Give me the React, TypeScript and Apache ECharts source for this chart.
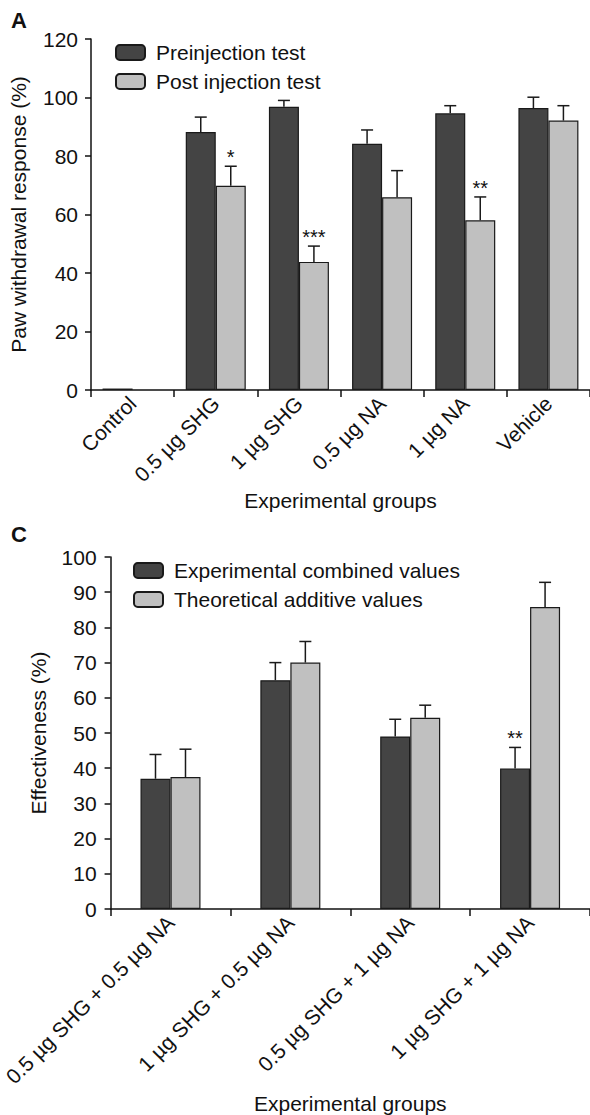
import React, { useEffect, useRef } from "react";
import * as echarts from "echarts";

const FONT = "'Liberation Sans', Arial, sans-serif";

// Chart A
const aCategories = ["Control", "0.5 µg SHG", "1 µg SHG", "0.5 µg NA", "1 µg NA", "Vehicle"];
const aPre = [0.5, 88.2, 96.8, 84.2, 94.6, 96.4];
const aPreErr = [0, 5.1, 2.2, 4.7, 2.6, 3.7];
const aPost: (number | null)[] = [null, 69.8, 43.8, 65.9, 58.0, 92.1];
const aPostErr = [0, 6.7, 5.4, 9.1, 8.0, 5.1];
const aPostStars = ["", "*", "***", "", "**", ""];
const aPreStars = ["", "", "", "", "", ""];
const aSeriesNames = ["Preinjection test", "Post injection test"];

// Chart C
const cCategories = [
  "0.5 µg SHG + 0.5 µg NA",
  "1 µg SHG + 0.5 µg NA",
  "0.5 µg SHG + 1 µg NA",
  "1 µg SHG + 1 µg NA",
];
const cExp = [37.0, 65.0, 49.0, 39.9];
const cExpErr = [6.9, 5.0, 4.9, 6.0];
const cTheo = [37.5, 70.0, 54.3, 85.8];
const cTheoErr = [7.9, 6.0, 3.6, 7.0];
const cExpStars = ["", "", "", "**"];
const cTheoStars = ["", "", "", ""];
const cSeriesNames = ["Experimental combined values", "Theoretical additive values"];

const DARK = "#444444";
const LIGHT = "#c0c0c0";
const BORDER = "#1a1a1a";
const BAR_W = 30;

function errSeries(
  name: string,
  gridIdx: number,
  values: (number | null)[],
  errs: number[],
  stars: string[],
  offset: number
) {
  return {
    type: "custom",
    name: name + " err",
    xAxisIndex: gridIdx,
    yAxisIndex: gridIdx,
    silent: true,
    z: 5,
    data: values.map((v, i) => [i, v == null ? 0 : v, errs[i]]),
    renderItem: (params: any, api: any) => {
      const i = api.value(0);
      const v = api.value(1);
      const e = api.value(2);
      const base = api.coord([i, v]);
      const top = api.coord([i, v + e]);
      const x = base[0] + offset;
      const children: any[] = [];
      if (e > 0) {
        children.push({
          type: "line",
          shape: { x1: x, y1: base[1], x2: x, y2: top[1] },
          style: { stroke: BORDER, lineWidth: 1.5 },
        });
        children.push({
          type: "line",
          shape: { x1: x - 6, y1: top[1], x2: x + 6, y2: top[1] },
          style: { stroke: BORDER, lineWidth: 1.5 },
        });
      }
      const s = stars[params.dataIndex];
      if (s) {
        children.push({
          type: "text",
          style: {
            text: s,
            x: x,
            y: top[1] + 1,
            align: "center",
            verticalAlign: "bottom",
            fontSize: 20,
            fontFamily: FONT,
            fill: "#111",
          },
        });
      }
      return { type: "group", children };
    },
  };
}

function barSeries(name: string, gridIdx: number, data: (number | null)[], color: string) {
  return {
    type: "bar",
    name,
    xAxisIndex: gridIdx,
    yAxisIndex: gridIdx,
    data,
    barWidth: BAR_W,
    barGap: "0%",
    itemStyle: { color, borderColor: BORDER, borderWidth: 1.2 },
  };
}

const axisLineStyle = { lineStyle: { color: "#111", width: 1.5 } };

function xAxis(gridIdx: number, cats: string[], nameGap: number) {
  return {
    type: "category",
    gridIndex: gridIdx,
    data: cats,
    name: "Experimental groups",
    nameLocation: "middle",
    nameGap,
    nameTextStyle: { fontSize: 21, fontFamily: FONT, color: "#111" },
    axisLine: { show: true, ...axisLineStyle },
    axisTick: { show: true, alignWithLabel: false, interval: 0, length: 7, lineStyle: { color: "#111", width: 1.5 } },
    axisLabel: { rotate: 45, interval: 0, fontSize: 21, fontFamily: FONT, color: "#111", margin: 10 },
    splitLine: { show: false },
  };
}

function yAxis(gridIdx: number, name: string, max: number, interval: number, margin: number) {
  return {
    type: "value",
    gridIndex: gridIdx,
    min: 0,
    max,
    interval,
    name,
    nameLocation: "middle",
    nameGap: 62,
    nameTextStyle: { fontSize: 21, fontFamily: FONT, color: "#111" },
    axisLine: { show: true, ...axisLineStyle },
    axisTick: { show: true, length: 6, lineStyle: { color: "#111", width: 1.5 } },
    axisLabel: { fontSize: 21, fontFamily: FONT, color: "#111", margin },
    splitLine: { show: false },
  };
}

export default function App() {
  const ref = useRef<HTMLDivElement>(null);
  useEffect(() => {
    if (!ref.current) return;
    const chart = echarts.init(ref.current, null, { renderer: "svg" });
    chart.setOption({
      animation: false,
      backgroundColor: "#ffffff",
      textStyle: { fontFamily: FONT },
      title: [
        { text: "A", left: 6, top: 4, textStyle: { fontSize: 22, fontWeight: "bold", fontFamily: FONT, color: "#111" } },
        { text: "C", left: 6, top: 518, textStyle: { fontSize: 22, fontWeight: "bold", fontFamily: FONT, color: "#111" } },
      ],
      legend: [
        {
          data: aSeriesNames,
          orient: "vertical",
          left: 110,
          top: 37,
          itemWidth: 29,
          itemHeight: 15,
          itemGap: 8,
          textStyle: { fontSize: 21, fontFamily: FONT, color: "#111", padding: [0, 0, 0, 6] },
        },
        {
          data: cSeriesNames,
          orient: "vertical",
          left: 128,
          top: 555,
          itemWidth: 29,
          itemHeight: 15,
          itemGap: 8,
          textStyle: { fontSize: 21, fontFamily: FONT, color: "#111", padding: [0, 0, 0, 6] },
        },
      ],
      grid: [
        { left: 90, right: 0, top: 39, height: 351 },
        { left: 109, right: 0, top: 557, height: 352 },
      ],
      xAxis: [xAxis(0, aCategories, 100), xAxis(1, cCategories, 184)],
      yAxis: [
        yAxis(0, "Paw withdrawal response (%)", 120, 20, 13),
        yAxis(1, "Effectiveness (%)", 100, 10, 14),
      ],
      series: [
        barSeries(aSeriesNames[0], 0, aPre, DARK),
        barSeries(aSeriesNames[1], 0, aPost, LIGHT),
        errSeries(aSeriesNames[0], 0, aPre, aPreErr, aPreStars, -BAR_W / 2),
        errSeries(aSeriesNames[1], 0, aPost, aPostErr, aPostStars, BAR_W / 2),
        barSeries(cSeriesNames[0], 1, cExp, DARK),
        barSeries(cSeriesNames[1], 1, cTheo, LIGHT),
        errSeries(cSeriesNames[0], 1, cExp, cExpErr, cExpStars, -BAR_W / 2),
        errSeries(cSeriesNames[1], 1, cTheo, cTheoErr, cTheoStars, BAR_W / 2),
      ],
    });
    return () => chart.dispose();
  }, []);
  return (
    <div
      ref={ref}
      style={{ position: "absolute", left: 0, top: 0, width: 590, height: 1115 }}
    />
  );
}
